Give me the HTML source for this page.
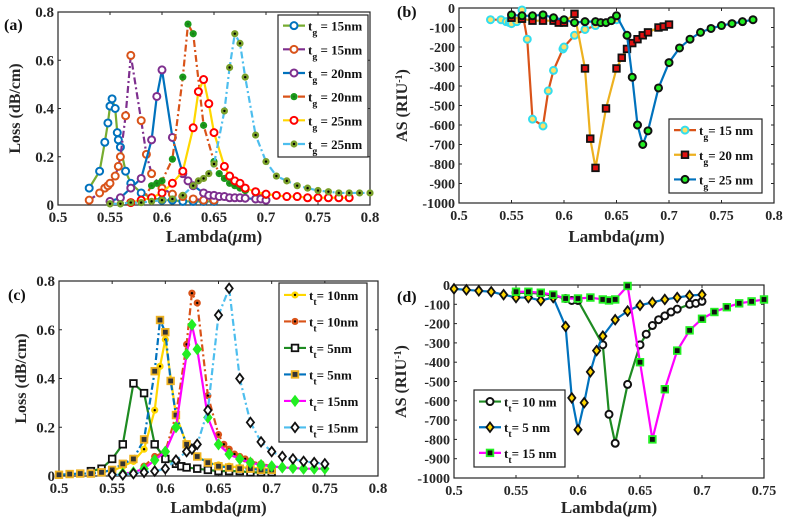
<!DOCTYPE html>
<html><head><meta charset="utf-8"><style>
body{margin:0;background:#fff}
svg{display:block;font-family:"Liberation Serif",serif;font-weight:bold}
</style></head><body>
<svg id="fig" width="789" height="520" viewBox="0 0 789 520"></svg>
<script>
// ---- Panel (a) data ----
const a1x=[.53,.54,.545,.548,.55,.552,.555,.557,.558,.56,.565,.57,.58,.59,.6,.61,.62,.63,.64,.65];
const a1y=[.07,.14,.26,.34,.41,.44,.40,.30,.27,.24,.14,.09,.05,.03,.02,.02,.015,.015,.015,.015];
const a2x=[.53,.54,.545,.548,.55,.555,.558,.56,.565,.57,.58,.585,.59,.6,.61,.62,.63,.64,.65];
const a2y=[.02,.05,.07,.08,.09,.12,.16,.20,.37,.62,.35,.21,.13,.07,.045,.035,.025,.02,.02];
const a3x=[.55,.56,.57,.58,.59,.595,.6,.61,.62,.625,.63,.64,.645,.65,.655,.66,.665,.67,.675,.68,.69,.695,.70];
const a3y=[.015,.03,.07,.11,.27,.45,.56,.28,.13,.10,.08,.05,.04,.04,.035,.035,.03,.03,.03,.028,.025,.025,.02];
const a4x=[.55,.56,.57,.58,.59,.595,.6,.61,.62,.625,.63,.64,.65,.655,.66,.665,.67,.675,.68,.69,.70];
const a4y=[.005,.005,.01,.01,.08,.09,.10,.19,.53,.75,.71,.33,.18,.13,.11,.09,.08,.07,.06,.05,.04];
const a5x=[.57,.58,.59,.6,.61,.62,.63,.635,.64,.645,.65,.66,.665,.67,.675,.68,.69,.70,.71,.72,.73,.74,.75,.76,.77,.78];
const a5y=[.01,.02,.03,.05,.09,.14,.32,.47,.52,.42,.30,.16,.12,.10,.09,.07,.055,.045,.04,.035,.035,.03,.03,.03,.03,.03];
const a6x=[.55,.56,.57,.58,.59,.6,.61,.62,.63,.635,.64,.645,.65,.66,.665,.67,.675,.68,.69,.70,.71,.72,.73,.74,.75,.76,.77,.78,.79,.80];
const a6y=[.005,.005,.01,.01,.015,.02,.025,.04,.08,.10,.11,.13,.17,.39,.57,.71,.67,.53,.29,.18,.12,.10,.08,.07,.06,.055,.05,.05,.05,.05];
// ---- Panel (b) data ----
const b1x=[.53,.54,.545,.548,.55,.555,.56,.565,.57,.58,.585,.59,.599,.6,.61,.62,.63,.65];
const b1y=[-60,-60,-70,-75,-80,-70,-10,-160,-570,-605,-425,-320,-210,-200,-140,-110,-90,-60];
const b2x=[.55,.56,.57,.58,.59,.595,.6,.61,.62,.625,.63,.64,.65,.655,.66,.665,.67,.675,.68,.69,.695,.70];
const b2y=[-50,-55,-65,-65,-65,-75,-75,-30,-310,-670,-820,-515,-310,-255,-210,-180,-160,-140,-125,-100,-95,-85];
const b3x=[.55,.56,.57,.58,.59,.6,.61,.62,.63,.635,.64,.645,.65,.66,.665,.67,.675,.68,.69,.70,.71,.72,.73,.74,.75,.76,.77,.78];
const b3y=[-35,-40,-40,-35,-50,-60,-75,-70,-70,-75,-75,-65,-40,-140,-355,-600,-700,-630,-410,-280,-205,-160,-125,-105,-90,-80,-70,-60];
// ---- Panel (c) data ----
const c1x=[.55,.56,.57,.58,.59,.595,.6,.61,.62,.63,.64,.65,.66,.67,.68,.69,.70];
const c1y=[.02,.04,.06,.11,.27,.45,.56,.25,.13,.08,.055,.045,.04,.035,.035,.03,.03];
const c2x=[.58,.59,.6,.61,.62,.625,.63,.64,.65,.655,.66,.665,.67,.675,.68,.69,.70];
const c2y=[.04,.08,.10,.25,.54,.75,.71,.33,.17,.13,.11,.09,.08,.07,.06,.05,.04];
const c3x=[.53,.54,.55,.56,.57,.58,.59,.6,.61,.615,.62,.63,.64,.65,.66,.67,.68,.69,.70];
const c3y=[.02,.03,.07,.13,.38,.34,.13,.07,.05,.04,.035,.03,.025,.02,.02,.02,.015,.015,.015];
const c4x=[.5,.51,.52,.53,.54,.55,.56,.57,.58,.59,.595,.6,.605,.61,.62,.63,.64,.65,.66,.67,.68,.69,.70];
const c4y=[.005,.008,.01,.01,.015,.025,.05,.07,.15,.43,.64,.59,.39,.25,.13,.08,.055,.04,.035,.03,.03,.025,.025];
const c5x=[.56,.57,.58,.59,.6,.61,.62,.625,.63,.64,.65,.66,.67,.68,.69,.70,.71,.72,.73,.74,.75];
const c5y=[.01,.015,.03,.065,.10,.20,.50,.62,.52,.24,.13,.09,.07,.055,.045,.04,.035,.033,.03,.03,.03];
const c6x=[.55,.56,.57,.58,.59,.6,.61,.62,.625,.63,.64,.65,.66,.67,.68,.69,.70,.71,.72,.73,.74,.75];
const c6y=[.005,.005,.01,.015,.02,.03,.065,.10,.11,.13,.27,.66,.77,.40,.22,.14,.10,.08,.07,.06,.055,.05];
// ---- Panel (d) data ----
const d1x=[.55,.56,.57,.58,.59,.595,.6,.62,.625,.63,.64,.65,.655,.66,.665,.67,.675,.68,.69,.695,.70];
const d1y=[-40,-40,-45,-55,-70,-80,-80,-310,-670,-820,-515,-310,-255,-210,-180,-160,-140,-125,-100,-95,-85];
const d2x=[.5,.51,.52,.53,.54,.55,.56,.57,.58,.59,.595,.6,.605,.61,.615,.62,.63,.64,.65,.66,.67,.68,.69,.70];
const d2y=[-20,-25,-30,-35,-50,-65,-65,-80,-65,-215,-585,-750,-610,-450,-340,-265,-180,-135,-105,-90,-75,-65,-55,-50];
const d3x=[.55,.56,.57,.58,.59,.6,.61,.62,.625,.63,.64,.65,.66,.67,.68,.69,.70,.71,.72,.73,.74,.75];
const d3y=[-35,-35,-40,-50,-70,-70,-65,-75,-80,-75,-5,-400,-800,-540,-340,-235,-175,-140,-115,-95,-85,-75];
// ---- ticks ----
const xTicksAB=[0.5,0.55,0.6,0.65,0.7,0.75,0.8];
const xTicksD=[0.5,0.55,0.6,0.65,0.7,0.75];
const yTicksLoss=[0,0.2,0.4,0.6,0.8];
const yTicksAS=[0,-100,-200,-300,-400,-500,-600,-700,-800,-900,-1000];

const NS="http://www.w3.org/2000/svg";
const svg=document.getElementById('fig');
function mk(tag,attrs,parent){const e=document.createElementNS(NS,tag);for(const k in attrs)e.setAttribute(k,attrs[k]);(parent||svg).appendChild(e);return e;}

function marker(g,type,x,y,mc,fc){
  let e;
  if(type==='circle'){e=mk('circle',{cx:x,cy:y,r:3.5,fill:fc,stroke:mc,'stroke-width':2},g);}
  else if(type==='square'){e=mk('rect',{x:x-3.3,y:y-3.3,width:6.6,height:6.6,fill:fc,stroke:mc,'stroke-width':1.8},g);}
  else if(type==='diamond'){e=mk('path',{d:`M${x},${y-4.7}L${x+3.6},${y}L${x},${y+4.7}L${x-3.6},${y}Z`,fill:fc,stroke:mc,'stroke-width':1.8},g);}
  else {e=mk('circle',{cx:x,cy:y,r:3.6,fill:fc,stroke:'none'},g);mk('circle',{cx:x,cy:y,r:1.2,fill:mc},g);}
  
  
}

function panel(p){
  const g=mk('g',{});
  
  
  const X=v=>p.x0+(v-p.dx[0])/(p.dx[1]-p.dx[0])*(p.x1-p.x0);
  const Y=v=>p.yb+(v-p.dy[0])/(p.dy[1]-p.dy[0])*(p.yt-p.yb);
  const box=mk('rect',{x:p.x0,y:p.yt,width:p.x1-p.x0,height:p.yb-p.yt,fill:'#fff',stroke:'#262626','stroke-width':1.2},g);
  
  
  p.xt.forEach(v=>{
    const x=X(v);
    mk('line',{x1:x,x2:x,y1:p.yb,y2:p.yb-3,stroke:'#262626'},g);
    mk('line',{x1:x,x2:x,y1:p.yt,y2:p.yt+3,stroke:'#262626'},g);
    const t=mk('text',{x:x,y:p.yb+17,'text-anchor':'middle','font-size':p.fs,fill:'#262626'},g);
    t.textContent=String(v);
    
    
  });
  p.yTk.forEach(v=>{
    const y=Y(v);
    mk('line',{x1:p.x0,x2:p.x0+3,y1:y,y2:y,stroke:'#262626'},g);
    mk('line',{x1:p.x1,x2:p.x1-3,y1:y,y2:y,stroke:'#262626'},g);
    const t=mk('text',{x:p.x0-4,y:y+5,'text-anchor':'end','font-size':p.fs,fill:'#262626'},g);
    t.textContent=String(v);
    
    
  });
  p.series.forEach(s=>{
    const sg=mk('g',{},g);
    
    
    const pts=s.x.map((v,i)=>X(v)+','+Y(s.y[i])).join(' ');
    mk('polyline',{points:pts,fill:'none',stroke:s.lc,'stroke-width':2.2,'stroke-dasharray':s.dash||''},sg);
    s.x.forEach((v,i)=>marker(sg,s.m,X(v),Y(s.y[i]),s.mc,s.fc));
  });
  const L=p.leg;
  const lg=mk('g',{},g);
  
  
  mk('rect',{x:L.x,y:L.y,width:L.w,height:L.h,fill:'#fff',stroke:'#262626','stroke-width':1.2},lg);
  const step=L.h/p.series.length;
  p.series.forEach((s,i)=>{
    const cy=L.y+step*(i+0.45);
    mk('line',{x1:L.x+5,x2:L.x+27,y1:cy,y2:cy,stroke:s.lc,'stroke-width':2.2,'stroke-dasharray':s.dash||''},lg);
    marker(lg,s.m,L.x+16,cy,s.mc,s.fc);
    const t=mk('text',{x:L.x+30,y:cy+5,'font-size':L.fs,fill:'#111'},lg);
    
    
    t.appendChild(document.createTextNode('t'));
    const sub=mk('tspan',{dy:5,'font-size':L.fs*0.75},t);sub.textContent=s.sub;
    const rest=mk('tspan',{dy:-5},t);rest.textContent=s.label;
  });
  const yl=mk('text',{x:p.ylx,y:(p.yt+p.yb)/2,'text-anchor':'middle','font-size':16,fill:'#262626',transform:`rotate(-90 ${p.ylx} ${(p.yt+p.yb)/2})`},g);
  
  
  if(p.ylab==='loss'){yl.textContent='Loss (dB/cm)';}
  else{yl.appendChild(document.createTextNode('AS (RIU'));const sp=mk('tspan',{dy:-5,'font-size':10},yl);sp.textContent='-1';const sp2=mk('tspan',{dy:5},yl);sp2.textContent=')';}
  const xl=mk('text',{x:(p.x0+p.x1)/2,y:p.xly,'text-anchor':'middle','font-size':17,fill:'#262626'},g);
  
  
  xl.appendChild(document.createTextNode('Lambda('));
  const mu=mk('tspan',{'font-style':'italic'},xl);mu.textContent='μ';
  xl.appendChild(document.createTextNode('m)'));
  const pl=mk('text',{x:p.plx,y:p.ply,'font-size':16,fill:'#111'},g);
  pl.textContent=p.tag;
  
  
}

const G='#77AC30',B='#0072BD',O='#D95319',Yl='#EDB120',P='#7E2F8E',C='#4DBEEE',DG='#1E8B22',M='#FF00FF',LG='#22EE22';
const DD='7,3,2,3';
panel({name:'panel-a',tag:'(a)',plx:4,ply:30,x0:58,x1:370,yt:12,yb:205,dx:[0.5,0.8],dy:[0,0.8],xt:xTicksAB,yTk:yTicksLoss,fs:15,ylab:'loss',ylx:20,xly:242,
  leg:{x:278,y:15,w:90,h:142,fs:13},
  series:[
   {x:a1x,y:a1y,lc:G,m:'circle',mc:B,fc:'#fff',sub:'g',label:' = 15nm'},
   {x:a2x,y:a2y,lc:P,dash:DD,m:'circle',mc:O,fc:'#fff',sub:'g',label:' = 15nm'},
   {x:a3x,y:a3y,lc:B,m:'circle',mc:P,fc:'#fff',sub:'g',label:' = 20nm'},
   {x:a4x,y:a4y,lc:O,dash:DD,m:'dot',mc:'#1a7a1a',fc:'#1a9a1a',sub:'g',label:' = 20nm'},
   {x:a5x,y:a5y,lc:'#FFD700',m:'circle',mc:'#FF0000',fc:'#fff',sub:'g',label:' = 25nm'},
   {x:a6x,y:a6y,lc:C,dash:DD,m:'dot',mc:'#000',fc:'#7AA02A',sub:'g',label:' = 25nm'}]});
panel({name:'panel-b',tag:'(b)',plx:397,ply:17,x0:459,x1:774,yt:8,yb:203,dx:[0.5,0.8],dy:[-1000,0],xt:xTicksAB,yTk:yTicksAS,fs:14,ylab:'as',ylx:407,xly:242,
  leg:{x:669,y:119,w:93,h:74,fs:13},
  series:[
   {x:b1x,y:b1y,lc:O,m:'circle',mc:'#33DDEE',fc:'#FFE066',sub:'g',label:'= 15 nm'},
   {x:b2x,y:b2y,lc:Yl,m:'square',mc:'#111',fc:'#E01010',sub:'g',label:'= 20 nm'},
   {x:b3x,y:b3y,lc:B,m:'circle',mc:'#111',fc:'#22EE22',sub:'g',label:'= 25 nm'}]});
panel({name:'panel-c',tag:'(c)',plx:8,ply:300,x0:59,x1:378,yt:281,yb:476,dx:[0.5,0.8],dy:[0,0.8],xt:xTicksAB,yTk:yTicksLoss,fs:15,ylab:'loss',ylx:26,xly:513,
  leg:{x:279,y:283,w:88,h:159,fs:13},
  series:[
   {x:c1x,y:c1y,lc:'#FFD700',m:'dot',mc:'#000',fc:'#FFD700',sub:'t',label:'= 10nm'},
   {x:c2x,y:c2y,lc:O,dash:DD,m:'dot',mc:'#000',fc:O,sub:'t',label:'= 10nm'},
   {x:c3x,y:c3y,lc:DG,m:'square',mc:'#111',fc:'#fff',sub:'t',label:'= 5nm'},
   {x:c4x,y:c4y,lc:B,dash:DD,m:'square',mc:Yl,fc:'#333',sub:'t',label:'= 5nm'},
   {x:c5x,y:c5y,lc:M,m:'diamond',mc:LG,fc:LG,sub:'t',label:'= 15nm'},
   {x:c6x,y:c6y,lc:C,dash:DD,m:'diamond',mc:'#111',fc:'#fff',sub:'t',label:'= 15nm'}]});
panel({name:'panel-d',tag:'(d)',plx:397,ply:302,x0:454,x1:764,yt:285,yb:478,dx:[0.5,0.75],dy:[-1000,0],xt:xTicksD,yTk:yTicksAS,fs:14,ylab:'as',ylx:406,xly:513,
  leg:{x:474,y:390,w:91,h:77,fs:13},
  series:[
   {x:d1x,y:d1y,lc:DG,m:'circle',mc:'#111',fc:'#fff',sub:'t',label:'= 10 nm'},
   {x:d2x,y:d2y,lc:B,m:'diamond',mc:'#111',fc:'#FFD700',sub:'t',label:'= 5 nm'},
   {x:d3x,y:d3y,lc:M,m:'square',mc:LG,fc:'#111',sub:'t',label:'= 15 nm'}]});
</script>
</body></html>
